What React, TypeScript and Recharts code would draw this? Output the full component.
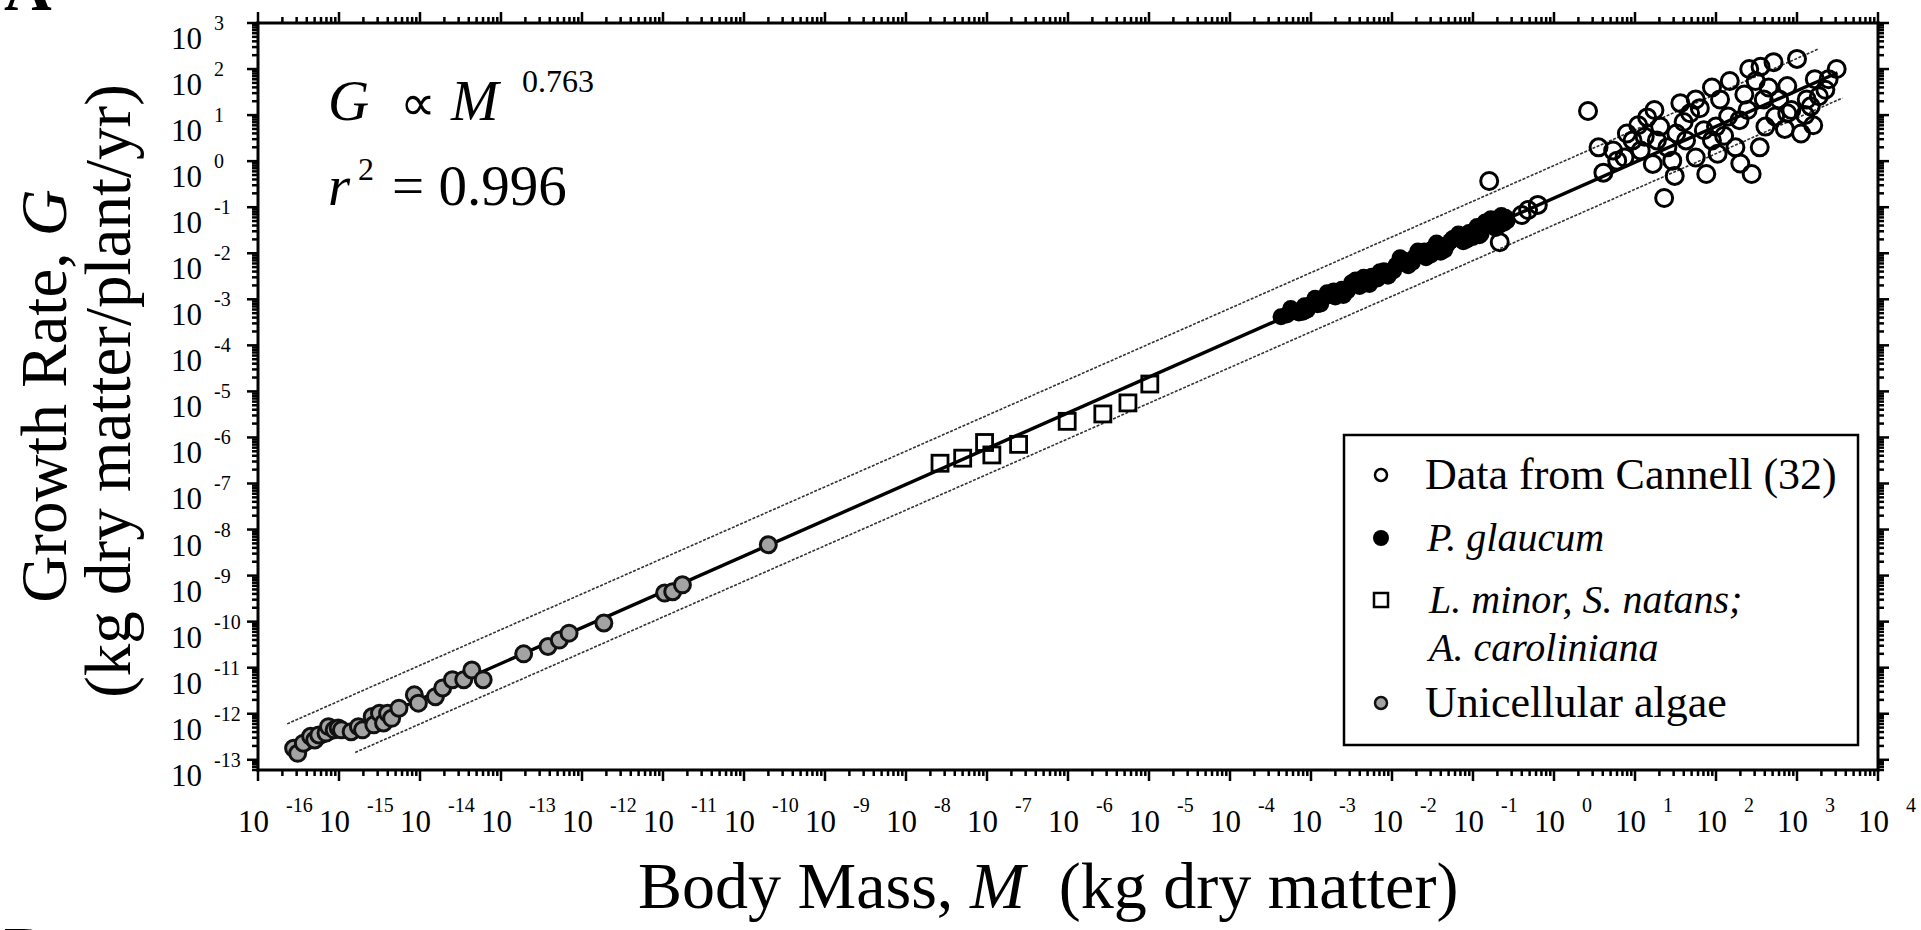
import React from 'react';
import { ScatterChart, Scatter, XAxis, YAxis } from 'recharts';

// values as [log10 M, log10 G]
const cannell: [number, number][] = [
  [-0.8, -0.43], [-0.67, -1.76], [-0.4, -1.17], [-0.32, -1.06], [-0.2, -0.95],
  [0.42, 1.09], [0.55, 0.3], [0.61, -0.25], [0.73, 0.23], [0.78, 0.01], [0.87, 0.08],
  [0.9, 0.6], [0.97, 0.45], [1.04, 0.78], [1.07, 0.23], [1.12, 0.53], [1.15, 0.95],
  [1.22, -0.06], [1.24, 1.11], [1.27, 0.45], [1.31, 0.75], [1.36, -0.8], [1.4, 0.3],
  [1.46, 0.01], [1.49, -0.32], [1.51, 0.6], [1.56, 1.26], [1.6, 0.85], [1.63, 0.45],
  [1.68, 1.04], [1.75, 0.08], [1.75, 1.34], [1.8, 1.15], [1.85, 0.67], [1.88, -0.28],
  [1.95, 0.45], [1.95, 1.6], [2.0, 0.75], [2.02, 0.16], [2.05, 1.34], [2.1, 0.55],
  [2.15, 0.97], [2.17, 1.74], [2.24, 0.3], [2.29, 0.89], [2.3, -0.05], [2.35, 1.45],
  [2.39, 1.11], [2.41, 2.0], [2.44, -0.28], [2.49, 1.74], [2.54, 0.3], [2.55, 2.05],
  [2.59, 1.34], [2.61, 0.75], [2.65, 1.6], [2.71, 2.15], [2.73, 0.97], [2.78, 1.34],
  [2.85, 0.7], [2.88, 1.63], [2.88, 1.04], [2.93, 1.11], [3.0, 2.22], [3.05, 0.6],
  [3.1, 1.0], [3.12, 1.34], [3.17, 1.19], [3.2, 0.78], [3.22, 1.78], [3.27, 1.41],
  [3.35, 1.55], [3.39, 1.78], [3.49, 2.0],
];

const glaucum: [number, number][] = [
  [-3.37, -3.38], [-3.3, -3.34], [-3.25, -3.2], [-3.22, -3.27], [-3.15, -3.3],
  [-3.1, -3.28], [-3.08, -3.14], [-3.05, -3.24], [-3.0, -3.1], [-2.95, -2.98],
  [-2.92, -3.12], [-2.88, -3.1], [-2.85, -2.97], [-2.8, -2.86], [-2.77, -2.92],
  [-2.72, -2.82], [-2.7, -2.95], [-2.62, -2.78], [-2.6, -2.92], [-2.55, -2.82],
  [-2.5, -2.64], [-2.47, -2.68], [-2.45, -2.58], [-2.4, -2.72], [-2.35, -2.52],
  [-2.32, -2.55], [-2.28, -2.68], [-2.25, -2.5], [-2.18, -2.56], [-2.15, -2.4],
  [-2.1, -2.38], [-2.05, -2.5], [-2.02, -2.42], [-1.98, -2.38], [-1.95, -2.26],
  [-1.9, -2.1], [-1.88, -2.2], [-1.85, -2.15], [-1.8, -2.27], [-1.75, -2.2],
  [-1.72, -2.08], [-1.68, -1.95], [-1.65, -2.02], [-1.6, -1.95], [-1.58, -2.1],
  [-1.52, -2.04], [-1.5, -1.9], [-1.45, -1.78], [-1.42, -1.84], [-1.4, -1.98],
  [-1.35, -1.93], [-1.32, -1.82], [-1.28, -1.74], [-1.25, -1.68], [-1.2, -1.67],
  [-1.18, -1.58], [-1.12, -1.75], [-1.08, -1.72], [-1.05, -1.55], [-1.0, -1.66],
  [-0.98, -1.5], [-0.95, -1.42], [-0.92, -1.62], [-0.9, -1.58], [-0.85, -1.32],
  [-0.82, -1.38], [-0.78, -1.25], [-0.75, -1.32], [-0.72, -1.46], [-0.7, -1.25],
  [-0.68, -1.4], [-0.65, -1.18], [-0.62, -1.35], [-0.6, -1.22], [-0.58, -1.3],
];

const lemna: [number, number][] = [
  [-7.58, -6.56], [-7.3, -6.45], [-7.03, -6.11], [-6.94, -6.38], [-6.61, -6.15],
  [-6.01, -5.65], [-5.57, -5.49], [-5.26, -5.25], [-4.99, -4.84],
];

const algae: [number, number][] = [
  [-15.56, -12.75], [-15.51, -12.86], [-15.44, -12.64], [-15.35, -12.49], [-15.3, -12.57],
  [-15.25, -12.46], [-15.16, -12.42], [-15.13, -12.28], [-15.06, -12.35], [-15.01, -12.31],
  [-14.97, -12.35], [-14.85, -12.39], [-14.76, -12.28], [-14.71, -12.35], [-14.59, -12.06],
  [-14.57, -12.24], [-14.5, -11.99], [-14.45, -12.2], [-14.4, -11.99], [-14.35, -12.1],
  [-14.26, -11.88], [-14.07, -11.59], [-14.02, -11.77], [-13.81, -11.63], [-13.72, -11.44],
  [-13.6, -11.26], [-13.46, -11.26], [-13.36, -11.05], [-13.22, -11.26], [-12.72, -10.7],
  [-12.42, -10.54], [-12.28, -10.4], [-12.16, -10.25], [-11.73, -10.03], [-10.98, -9.38],
  [-10.88, -9.35], [-10.76, -9.2], [-9.7, -8.33],
];

// fitted power law and its bounds, endpoints
const fitMain: [number, number][] = [[-15.51, -12.86], [3.5, 1.92]];
const fitUpper: [number, number][] = [[-15.64, -12.22], [3.27, 2.44]];
const fitLower: [number, number][] = [[-14.8, -12.84], [3.56, 1.37]];

const xExponents = [-16, -15, -14, -13, -12, -11, -10, -9, -8, -7, -6, -5, -4, -3, -2, -1, 0, 1, 2, 3, 4];
const yExponents = [-14, -13, -12, -11, -10, -9, -8, -7, -6, -5, -4, -3, -2, -1, 0, 1, 2, 3];
const minorSteps = [2, 3, 4, 5, 6, 7, 8, 9];

const xDomain: [number, number] = [1e-16, 1e4];
const yDomain: [number, number] = [6e-14, 1e3];

const toPoints = (rows: [number, number][]) => rows.map(([a, b]) => ({ m: 10 ** a, g: 10 ** b }));

const logTicks = (exps: number[], [lo, hi]: [number, number]) =>
  exps
    .flatMap((e) => [10 ** e, ...minorSteps.map((s) => s * 10 ** e)])
    .filter((v) => v >= lo * 0.999 && v <= hi * 1.001);

const xTicks = logTicks(xExponents, xDomain);
const yTicks = logTicks(yExponents, yDomain);

const serif = '"Liberation Serif", "Times New Roman", serif';
const MAJOR = 11;
const MINOR = 6;
const TW = 2.5;

function tickInfo(v: number) {
  const l = Math.log10(v);
  const e = Math.round(l);
  return { e, major: Math.abs(l - e) < 1e-6 };
}

function BottomTick(props: any) {
  const { x, y, payload } = props;
  const { e, major } = tickInfo(payload.value);
  return (
    <g>
      <line x1={x} x2={x} y1={y} y2={y + (major ? MAJOR : MINOR)} stroke="#000" strokeWidth={TW} />
      {major && (
        <>
          <text x={x - 20} y={y + 62} fontSize={31} fontFamily={serif} fill="#000">10</text>
          <text x={x + 28} y={y + 42} fontSize={20} fontFamily={serif} fill="#000">{e}</text>
        </>
      )}
    </g>
  );
}

function TopTick(props: any) {
  const { x, y, payload } = props;
  const { major } = tickInfo(payload.value);
  return <line x1={x} x2={x} y1={y} y2={y - (major ? MAJOR : MINOR)} stroke="#000" strokeWidth={TW} />;
}

function LeftTick(props: any) {
  const { x, y, payload } = props;
  const { e, major } = tickInfo(payload.value);
  return (
    <g>
      <line x1={x} x2={x - (major ? MAJOR : MINOR)} y1={y} y2={y} stroke="#000" strokeWidth={TW} />
      {major && (
        <>
          <text x={x - 56} y={y + 26} fontSize={31} fontFamily={serif} textAnchor="end" fill="#000">10</text>
          <text x={x - 44} y={y + 7} fontSize={20} fontFamily={serif} fill="#000">{e}</text>
        </>
      )}
    </g>
  );
}

function RightTick(props: any) {
  const { x, y, payload } = props;
  const { major } = tickInfo(payload.value);
  return <line x1={x} x2={x + (major ? MAJOR : MINOR)} y1={y} y2={y} stroke="#000" strokeWidth={TW} />;
}

const OpenCircle = (p: any) => <circle cx={p.cx} cy={p.cy} r={8.5} fill="none" stroke="#000" strokeWidth={3} />;
const FilledCircle = (p: any) => <circle cx={p.cx} cy={p.cy} r={8.5} fill="#000" />;
const GreyCircle = (p: any) => <circle cx={p.cx} cy={p.cy} r={8} fill="#a3a3a3" stroke="#111" strokeWidth={3} />;
const OpenSquare = (p: any) => (
  <rect x={p.cx - 8} y={p.cy - 8} width={16} height={16} fill="none" stroke="#000" strokeWidth={2.8} />
);
const NoDot = () => <g />;

const frame = { stroke: '#000', strokeWidth: 3, strokeLinecap: 'square' as const };
const bound = { stroke: '#333', strokeWidth: 1.6, strokeDasharray: '3 1.5' };

export default function App() {
  return (
    <div style={{ position: 'absolute', left: 0, top: 0, width: 1921, height: 930, background: '#fff' }}>
      <ScatterChart width={1921} height={930} margin={{ top: 11, right: 28, bottom: 90, left: 58 }}>
        <XAxis
          xAxisId="b" type="number" dataKey="m" scale="log" domain={xDomain} allowDataOverflow
          ticks={xTicks} interval={0} tickSize={0} tickMargin={0} tickLine={false}
          tick={BottomTick} axisLine={frame} height={70}
        />
        <XAxis
          xAxisId="t" orientation="top" type="number" dataKey="m" scale="log" domain={xDomain} allowDataOverflow
          ticks={xTicks} interval={0} tickSize={0} tickMargin={0} tickLine={false}
          tick={TopTick} axisLine={frame} height={12}
        />
        <YAxis
          yAxisId="l" type="number" dataKey="g" scale="log" domain={yDomain} allowDataOverflow
          ticks={yTicks} interval={0} tickSize={0} tickMargin={0} tickLine={false}
          tick={LeftTick} axisLine={frame} width={200}
        />
        <YAxis
          yAxisId="r" orientation="right" type="number" dataKey="g" scale="log" domain={yDomain} allowDataOverflow
          ticks={yTicks} interval={0} tickSize={0} tickMargin={0} tickLine={false}
          tick={RightTick} axisLine={frame} width={15}
        />
        <Scatter xAxisId="b" yAxisId="l" data={toPoints(fitUpper)} shape={NoDot} isAnimationActive={false} line={bound} />
        <Scatter xAxisId="b" yAxisId="l" data={toPoints(fitLower)} shape={NoDot} isAnimationActive={false} line={bound} />
        <Scatter xAxisId="b" yAxisId="l" data={toPoints(fitMain)} shape={NoDot} isAnimationActive={false}
          line={{ stroke: '#000', strokeWidth: 3.4 }} />
        <Scatter xAxisId="b" yAxisId="l" name="Unicellular algae" data={toPoints(algae)} shape={GreyCircle} isAnimationActive={false} />
        <Scatter xAxisId="b" yAxisId="l" name="L. minor, S. natans; A. caroliniana" data={toPoints(lemna)} shape={OpenSquare} isAnimationActive={false} />
        <Scatter xAxisId="b" yAxisId="l" name="P. glaucum" data={toPoints(glaucum)} shape={FilledCircle} isAnimationActive={false} />
        <Scatter xAxisId="b" yAxisId="l" name="Data from Cannell (32)" data={toPoints(cannell)} shape={OpenCircle} isAnimationActive={false} />
      </ScatterChart>

      <svg width={1921} height={930} style={{ position: 'absolute', left: 0, top: 0, pointerEvents: 'none' }}
        fontFamily={serif} fill="#000">
        {/* panel letters, cropped at the page edge as in the source */}
        <text x={4} y={10} fontSize={66} fontWeight="bold">A</text>
        <text x={4} y={968} fontSize={60} fontWeight="bold">B</text>

        {/* fit annotation */}
        <text x={328} y={120} fontSize={57} fontStyle="italic">G</text>
        <text x={400} y={120} fontSize={50}>∝</text>
        <text x={451} y={120} fontSize={57} fontStyle="italic">M</text>
        <text x={522} y={92} fontSize={32}>0.763</text>
        <text x={328} y={205} fontSize={57} fontStyle="italic">r</text>
        <text x={358} y={180} fontSize={32}>2</text>
        <text x={392} y={205} fontSize={57}>= 0.996</text>

        {/* axis titles */}
        <text x={638} y={908} fontSize={66}>
          Body Mass, <tspan fontStyle="italic">M</tspan>
          <tspan dx={34}>(kg dry matter)</tspan>
        </text>
        <text x={66} y={396} fontSize={65} textAnchor="middle" transform="rotate(-90 66 396)">
          Growth Rate, <tspan fontStyle="italic">G</tspan>
        </text>
        <text x={130} y={391} fontSize={65} textAnchor="middle" transform="rotate(-90 130 391)">
          (kg dry matter/plant/yr)
        </text>

        {/* legend */}
        <rect x={1344} y={435} width={514} height={310} fill="#fff" stroke="#000" strokeWidth={2.5} />
        <circle cx={1381} cy={475} r={6} fill="none" stroke="#000" strokeWidth={2.5} />
        <text x={1425} y={489} fontSize={44}>Data from Cannell (32)</text>
        <circle cx={1381} cy={538} r={8} fill="#000" />
        <text x={1427} y={551} fontSize={40} fontStyle="italic">P. glaucum</text>
        <rect x={1374} y={593} width={14} height={14} fill="none" stroke="#000" strokeWidth={2.5} />
        <text x={1429} y={613} fontSize={40} fontStyle="italic">L. minor, S. natans;</text>
        <text x={1429} y={661} fontSize={40} fontStyle="italic">A. caroliniana</text>
        <circle cx={1381} cy={703} r={6} fill="#a3a3a3" stroke="#111" strokeWidth={2.5} />
        <text x={1425} y={717} fontSize={44}>Unicellular algae</text>
      </svg>
    </div>
  );
}
